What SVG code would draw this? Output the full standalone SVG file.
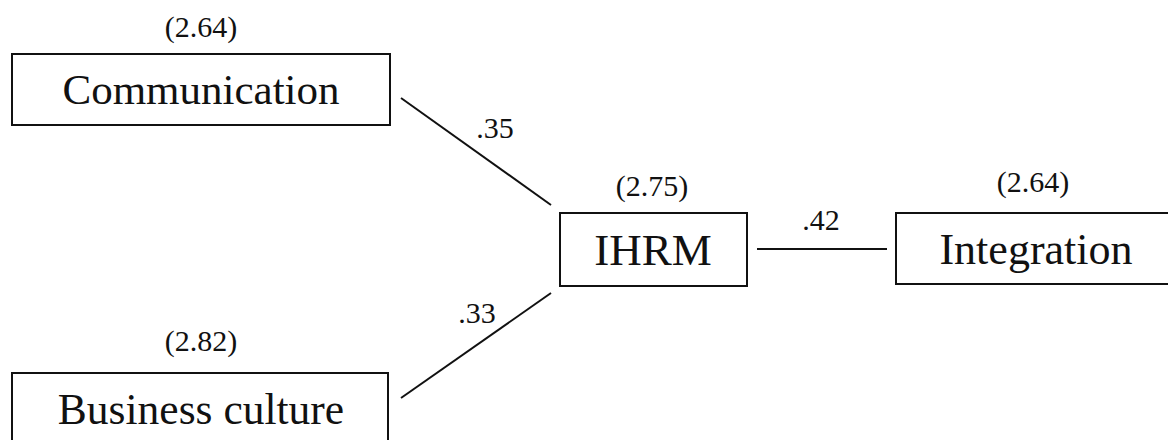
<svg xmlns="http://www.w3.org/2000/svg" width="1168" height="440" viewBox="0 0 1168 440" font-family="Liberation Serif, DejaVu Serif, serif">
<style>
  .box { fill: #fff; stroke: #111; stroke-width: 2; }
  .lbl { font-family: 'Liberation Serif', 'DejaVu Serif', serif; fill: #111; text-anchor: middle; }
  .big { font-size: 44px; }
  .small { font-size: 30px; }
  .edge { stroke: #111; stroke-width: 2; fill: none; }
</style>
<rect width="1168" height="440" fill="#fff"/>
<g id="connectors">
  <line class="edge" x1="401" y1="98" x2="551" y2="205"/>
  <line class="edge" x1="401" y1="398" x2="551" y2="293"/>
  <line class="edge" x1="757" y1="249" x2="887" y2="249"/>
  <text class="lbl small" x="495" y="138">.35</text>
  <text class="lbl small" x="477" y="323">.33</text>
  <text class="lbl small" x="821" y="230">.42</text>
</g>
<g id="communication">
  <text class="lbl small" x="201" y="37">(2.64)</text>
  <rect class="box" x="12" y="54" width="378" height="71"/>
  <text class="lbl big" x="201" y="104" style="font-size:43px">Communication</text>
</g>
<g id="business-culture">
  <text class="lbl small" x="201" y="351">(2.82)</text>
  <rect class="box" x="12" y="373" width="376" height="80"/>
  <text class="lbl big" x="201" y="424" style="font-size:43.5px">Business culture</text>
</g>
<g id="ihrm">
  <text class="lbl small" x="652" y="196">(2.75)</text>
  <rect class="box" x="560" y="213" width="187" height="73"/>
  <text class="lbl big" x="653" y="265" style="font-size:45px">IHRM</text>
</g>
<g id="integration">
  <text class="lbl small" x="1033" y="192">(2.64)</text>
  <rect class="box" x="896" y="213" width="290" height="71"/>
  <text class="lbl big" x="1036" y="264">Integration</text>
</g>
</svg>
